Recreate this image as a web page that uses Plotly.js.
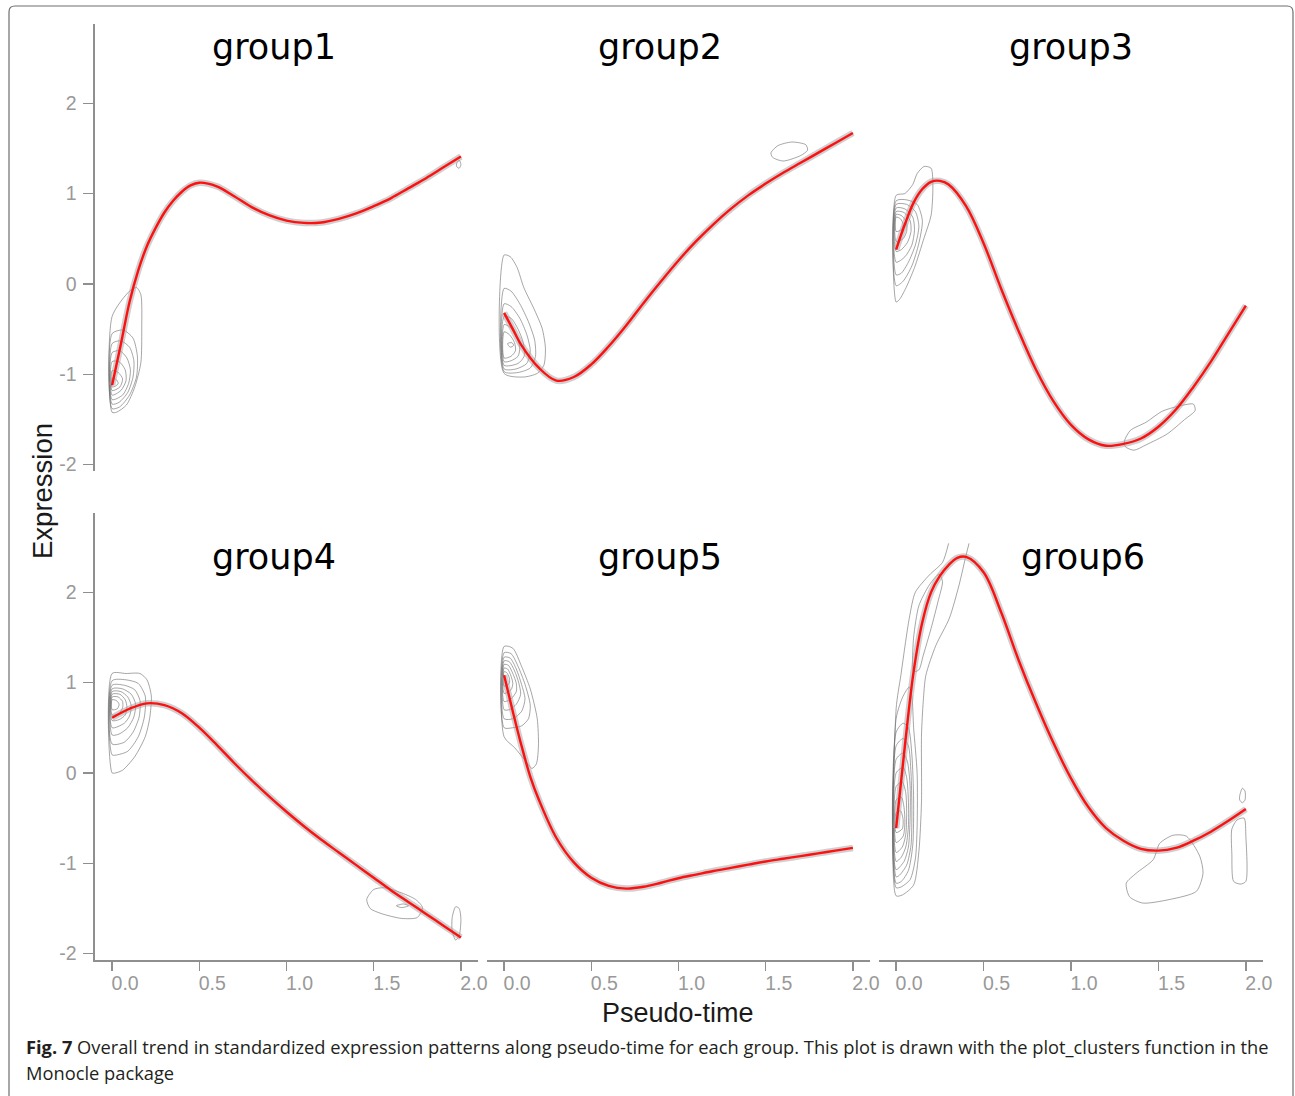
<!DOCTYPE html>
<html>
<head>
<meta charset="utf-8">
<script src="https://cdn.plot.ly/plotly-3.0.1.min.js"></script>
<style>html,body{margin:0;padding:0;background:#fff;}#chart{width:1295px;height:1096px;}</style>
</head>
<body>
<div id="chart"></div>
<script>
// ---------------- DATA ----------------
const groupNames = ["group1", "group2", "group3", "group4", "group5", "group6"];
const xTickVals = [0, 0.5, 1, 1.5, 2];
const xTickText = ["0.0", "0.5", "1.0", "1.5", "2.0"];
const yTickVals = [-2, -1, 0, 1, 2];
const yTickText = ["-2", "-1", "0", "1", "2"];

// fitted trend curves (pseudo-time, expression)
const group1T = [0,0.05,0.1,0.15,0.2,0.25,0.3,0.35,0.4,0.45,0.5,0.6,0.7,0.8,0.9,1.0,1.1,1.2,1.3,1.4,1.5,1.6,1.7,1.8,1.9,2.0];
const group1Y = [-1.12,-0.67,-0.20,0.15,0.42,0.62,0.79,0.92,1.02,1.09,1.12,1.08,0.97,0.85,0.76,0.70,0.675,0.68,0.72,0.78,0.86,0.95,1.06,1.17,1.29,1.41];
const group2T = [0,0.05,0.1,0.2,0.3,0.4,0.5,0.6,0.7,0.8,0.9,1.0,1.1,1.2,1.3,1.4,1.5,1.6,1.7,1.8,1.9,2.0];
const group2Y = [-0.32,-0.50,-0.68,-0.93,-1.07,-1.03,-0.89,-0.69,-0.46,-0.21,0.03,0.26,0.47,0.66,0.83,0.98,1.11,1.23,1.34,1.45,1.56,1.67];
const group3T = [0,0.05,0.1,0.15,0.2,0.25,0.3,0.4,0.5,0.6,0.7,0.8,0.9,1.0,1.1,1.2,1.3,1.4,1.5,1.6,1.7,1.8,1.9,2.0];
const group3Y = [0.38,0.66,0.90,1.05,1.13,1.14,1.10,0.86,0.45,-0.05,-0.52,-0.95,-1.30,-1.56,-1.72,-1.79,-1.77,-1.71,-1.58,-1.39,-1.14,-0.86,-0.55,-0.24];
const group4T = [0,0.1,0.2,0.3,0.4,0.5,0.6,0.7,0.8,0.9,1.0,1.1,1.2,1.3,1.4,1.5,1.6,1.7,1.8,1.9,2.0];
const group4Y = [0.61,0.71,0.77,0.75,0.66,0.50,0.31,0.11,-0.08,-0.26,-0.43,-0.59,-0.74,-0.88,-1.02,-1.16,-1.30,-1.43,-1.56,-1.69,-1.82];
const group5T = [0,0.05,0.1,0.15,0.2,0.3,0.4,0.5,0.6,0.7,0.8,0.9,1.0,1.1,1.2,1.3,1.4,1.5,1.6,1.7,1.8,1.9,2.0];
const group5Y = [1.08,0.68,0.30,-0.04,-0.30,-0.72,-0.99,-1.16,-1.25,-1.28,-1.26,-1.215,-1.165,-1.125,-1.085,-1.05,-1.015,-0.98,-0.95,-0.92,-0.89,-0.86,-0.83];
const group6T = [0,0.05,0.1,0.15,0.2,0.25,0.3,0.35,0.4,0.5,0.6,0.7,0.8,0.9,1.0,1.1,1.2,1.3,1.4,1.5,1.6,1.7,1.8,1.9,2.0];
const group6Y = [-0.61,0.30,1.12,1.67,2.00,2.18,2.30,2.38,2.39,2.22,1.78,1.25,0.77,0.33,-0.06,-0.38,-0.61,-0.75,-0.84,-0.86,-0.83,-0.75,-0.65,-0.53,-0.40];

// density contour rings (null separates rings)
const contour1X = [0,0.10,0.14,0.165,0.17,0.165,0.13,0.082,0.025,0,0,null,
  0,0.063,0.12,0.145,0.14,0.10,0.044,0,0,null,
  0,0.05,0.10,0.125,0.12,0.09,0.04,0,0,null,
  0,0.045,0.085,0.105,0.095,0.06,0,0,null,
  0,0.04,0.075,0.08,0.05,0,0,null,
  0,0.035,0.06,0.045,0,0,null,
  0,0.025,0.035,0.02,0,0,null,
  1.975,1.99,2.0,1.99,1.975,1.975];
const contour1Y = [-0.36,-0.08,-0.04,-0.12,-0.5,-0.87,-1.14,-1.34,-1.42,-1.42,-0.36,null,
  -0.55,-0.51,-0.6,-0.8,-1.03,-1.23,-1.36,-1.38,-0.55,null,
  -0.66,-0.63,-0.70,-0.85,-1.03,-1.2,-1.31,-1.33,-0.66,null,
  -0.76,-0.74,-0.82,-0.95,-1.1,-1.23,-1.28,-0.76,null,
  -0.86,-0.86,-0.95,-1.07,-1.18,-1.23,-0.86,null,
  -0.96,-0.98,-1.05,-1.14,-1.18,-0.96,null,
  -1.04,-1.06,-1.1,-1.13,-1.14,-1.04,null,
  1.33,1.37,1.32,1.28,1.30,1.33];

const contour2X = [0,0.036,0.075,0.113,0.17,0.218,0.237,0.228,0.19,0.113,0,0,null,
  0,0.04,0.09,0.14,0.175,0.18,0.15,0.08,0,0,null,
  0,0.04,0.09,0.13,0.15,0.13,0.07,0,0,null,
  0,0.04,0.08,0.11,0.115,0.08,0,0,null,
  0,0.035,0.07,0.09,0.08,0.04,0,0,null,
  0,0.03,0.06,0.065,0.04,0,0,null,
  0.02,0.045,0.055,0.035,0.02,null,
  1.53,1.57,1.65,1.73,1.74,1.70,1.60,1.54,1.53];
const contour2Y = [0.32,0.30,0.18,-0.04,-0.27,-0.49,-0.71,-0.90,-0.99,-1.03,-0.99,0.32,null,
  -0.05,-0.08,-0.22,-0.42,-0.62,-0.8,-0.93,-0.98,-0.97,-0.05,null,
  -0.22,-0.25,-0.38,-0.56,-0.74,-0.88,-0.94,-0.94,-0.22,null,
  -0.36,-0.38,-0.5,-0.65,-0.8,-0.88,-0.9,-0.36,null,
  -0.45,-0.48,-0.58,-0.7,-0.8,-0.85,-0.86,-0.45,null,
  -0.53,-0.56,-0.65,-0.74,-0.8,-0.82,-0.53,null,
  -0.66,-0.65,-0.68,-0.7,-0.66,null,
  1.45,1.53,1.57,1.54,1.48,1.42,1.36,1.40,1.45];

const contour3X = [0,0.05,0.095,0.12,0.16,0.2,0.21,0.2,0.16,0.105,0.057,0.02,0,0,null,
  0,0.06,0.12,0.15,0.13,0.09,0.04,0,0,null,
  0,0.06,0.11,0.13,0.11,0.07,0.03,0,0,null,
  0,0.05,0.095,0.105,0.09,0.05,0,0,null,
  0,0.045,0.08,0.085,0.065,0.03,0,0,null,
  0,0.035,0.06,0.06,0.04,0,0,null,
  0,0.025,0.04,0.03,0,0,null,
  1.307,1.34,1.43,1.52,1.62,1.70,1.71,1.65,1.55,1.43,1.36,1.31,1.307];
const contour3Y = [0.98,1.0,1.10,1.22,1.30,1.28,1.06,0.76,0.51,0.18,-0.04,-0.17,-0.2,0.98,null,
  0.92,0.93,0.88,0.7,0.45,0.2,0.03,-0.02,0.92,null,
  0.88,0.88,0.8,0.64,0.43,0.24,0.12,0.1,0.88,null,
  0.84,0.83,0.74,0.6,0.43,0.3,0.24,0.84,null,
  0.8,0.79,0.7,0.58,0.46,0.38,0.36,0.8,null,
  0.77,0.75,0.67,0.58,0.5,0.47,0.77,null,
  0.74,0.72,0.66,0.6,0.58,0.74,null,
  -1.73,-1.62,-1.53,-1.41,-1.35,-1.33,-1.40,-1.50,-1.66,-1.78,-1.84,-1.80,-1.73];

const contour4X = [0,0.08,0.16,0.2,0.225,0.215,0.19,0.13,0.06,0.02,0,0,null,
  0,0.08,0.15,0.19,0.185,0.15,0.09,0.03,0,0,null,
  0,0.07,0.13,0.16,0.155,0.12,0.07,0,0,null,
  0,0.06,0.11,0.135,0.125,0.09,0.04,0,0,null,
  0,0.05,0.09,0.11,0.1,0.07,0,0,null,
  0,0.045,0.075,0.085,0.075,0.04,0,0,null,
  0,0.035,0.06,0.06,0.04,0,0,null,
  0,0.025,0.04,0.03,0,0,null,
  1.46,1.50,1.56,1.65,1.74,1.78,1.75,1.66,1.55,1.48,1.46,null,
  1.63,1.67,1.70,1.66,1.63,null,
  1.95,1.97,1.99,2.0,1.99,1.97,1.95,1.95];
const contour4Y = [1.10,1.10,1.10,1.03,0.85,0.6,0.4,0.18,0.03,0.0,0.0,1.10,null,
  1.02,1.03,0.99,0.85,0.62,0.4,0.24,0.2,0.2,1.02,null,
  0.97,0.97,0.92,0.8,0.62,0.45,0.34,0.32,0.97,null,
  0.93,0.93,0.87,0.76,0.62,0.5,0.43,0.42,0.93,null,
  0.9,0.9,0.84,0.74,0.63,0.55,0.5,0.9,null,
  0.87,0.87,0.81,0.73,0.64,0.59,0.58,0.87,null,
  0.84,0.84,0.79,0.72,0.66,0.64,0.84,null,
  0.81,0.8,0.76,0.71,0.7,0.81,null,
  -1.40,-1.29,-1.27,-1.32,-1.40,-1.49,-1.60,-1.61,-1.56,-1.50,-1.40,null,
  -1.47,-1.45,-1.47,-1.49,-1.47,null,
  -1.6,-1.48,-1.5,-1.62,-1.8,-1.85,-1.75,-1.6];

const contour5X = [0,0.05,0.1,0.15,0.19,0.197,0.185,0.16,0.12,0.06,0,0,null,
  0,0.04,0.08,0.12,0.15,0.14,0.1,0.05,0,0,null,
  0,0.035,0.07,0.1,0.12,0.1,0.05,0,0,null,
  0,0.03,0.06,0.085,0.095,0.07,0.03,0,0,null,
  0,0.025,0.05,0.07,0.07,0.04,0,0,null,
  0,0.02,0.04,0.05,0.04,0,0,null,
  0,0.015,0.03,0.03,0,0];
const contour5Y = [1.40,1.38,1.18,0.93,0.6,0.3,0.1,0.05,0.14,0.28,0.4,1.40,null,
  1.33,1.32,1.18,0.98,0.75,0.6,0.52,0.5,0.5,1.33,null,
  1.28,1.27,1.15,0.98,0.82,0.68,0.6,0.6,1.28,null,
  1.24,1.23,1.13,0.99,0.87,0.76,0.7,0.7,1.24,null,
  1.2,1.19,1.1,0.99,0.9,0.82,0.79,1.2,null,
  1.16,1.15,1.07,0.99,0.92,0.88,1.16,null,
  1.12,1.11,1.05,0.99,0.96,1.12];

const contour6X = [0.30,0.265,0.19,0.11,0.075,0.027,0,0,0.036,0.10,0.13,0.145,0.145,0.155,0.17,0.227,0.304,0.36,0.40,0.417,null,
  0.094,0.10,0.13,0.19,0.245,0.265,0.24,0.2,0.155,0.13,0.10,0.094,null,
  0,0.04,0.075,0.09,0.1,0.12,0.12,0.11,0.08,0.03,0,0,null,
  0,0.04,0.07,0.09,0.1,0.095,0.07,0.03,0,0,null,
  0,0.04,0.07,0.085,0.09,0.085,0.06,0.02,0,0,null,
  0,0.04,0.065,0.08,0.08,0.07,0.045,0,0,null,
  0,0.04,0.06,0.07,0.07,0.055,0.03,0,0,null,
  0,0.035,0.055,0.06,0.055,0.035,0,0,null,
  0,0.03,0.045,0.05,0.04,0,0,null,
  0,0.025,0.04,0.035,0,0,null,
  1.316,1.373,1.47,1.507,1.583,1.66,1.736,1.755,1.717,1.565,1.41,1.335,1.316,null,
  1.92,1.95,1.99,2.0,2.0,1.97,1.93,1.92,1.92,null,
  1.965,1.98,1.995,1.995,1.98,1.965,1.965];
const contour6Y = [2.54,2.33,2.19,2.0,1.71,1.08,0.71,-1.36,-1.35,-1.24,-0.87,-0.32,0.42,0.79,1.08,1.41,1.71,2.08,2.41,2.54,null,
  1.2,1.5,1.85,2.08,2.2,2.12,1.9,1.6,1.30,1.14,1.12,1.2,null,
  0.6,0.85,0.95,0.85,0.5,0,-0.6,-0.95,-1.18,-1.26,-1.27,0.6,null,
  0.45,0.55,0.5,0.2,-0.3,-0.8,-1.08,-1.2,-1.22,0.45,null,
  0.3,0.38,0.3,0,-0.4,-0.8,-1.02,-1.13,-1.15,0.3,null,
  0.15,0.22,0.12,-0.15,-0.5,-0.82,-0.98,-1.07,0.15,null,
  0,0.06,-0.05,-0.3,-0.6,-0.82,-0.93,-0.98,0,null,
  -0.15,-0.1,-0.22,-0.45,-0.68,-0.82,-0.88,-0.15,null,
  -0.3,-0.27,-0.38,-0.55,-0.7,-0.77,-0.3,null,
  -0.44,-0.42,-0.52,-0.62,-0.66,-0.44,null,
  -1.22,-1.11,-0.96,-0.78,-0.69,-0.70,-0.92,-1.11,-1.31,-1.40,-1.44,-1.37,-1.22,null,
  -0.62,-0.52,-0.5,-0.7,-1.2,-1.23,-1.2,-0.9,-0.62,null,
  -0.25,-0.17,-0.2,-0.3,-0.33,-0.3,-0.25];

const captionLine1 = "<b>Fig. 7</b> Overall trend in standardized expression patterns along pseudo-time for each group. This plot is drawn with the plot_clusters function in the";
const captionLine2 = "Monocle package";
const xTitle = "Pseudo-time";
const yTitle = "Expression";

// ---------------- BUILD ----------------
const W = 1295, H = 1096;
const px = v => v / W;
const py = v => 1 - v / H;

const curveT = [group1T, group2T, group3T, group4T, group5T, group6T];
const curveY = [group1Y, group2Y, group3Y, group4Y, group5Y, group6Y];
const contX = [contour1X, contour2X, contour3X, contour4X, contour5X, contour6X];
const contY = [contour1Y, contour2Y, contour3Y, contour4Y, contour5Y, contour6Y];

const traces = [];
for (let i = 0; i < 6; i++) {
  const xa = i === 0 ? 'x' : 'x' + (i + 1);
  const ya = i === 0 ? 'y' : 'y' + (i + 1);
  traces.push({
    type: 'scatter', mode: 'lines', x: contX[i], y: contY[i], xaxis: xa, yaxis: ya,
    line: {color: 'rgba(105,105,105,0.7)', width: 0.85, shape: 'spline', smoothing: 0.7},
    connectgaps: false, hoverinfo: 'skip', showlegend: false
  });
  traces.push({
    type: 'scatter', mode: 'lines', x: curveT[i], y: curveY[i], xaxis: xa, yaxis: ya,
    line: {color: 'rgba(160,160,160,0.5)', width: 6.5, shape: 'spline', smoothing: 1},
    hoverinfo: 'skip', showlegend: false
  });
  traces.push({
    type: 'scatter', mode: 'lines', x: curveT[i], y: curveY[i], xaxis: xa, yaxis: ya,
    line: {color: '#ff1010', width: 2.4, shape: 'spline', smoothing: 1},
    hoverinfo: 'skip', showlegend: false
  });
}

const xDomains = [[px(95), px(478)], [px(487), px(870)], [px(879), px(1263)]];
const yDomains = [[py(471), py(24)], [py(960), py(513)]];
const xRange = [-0.098, 2.098];
const yRange = [-2.07, 2.876];
const axisGrey = '#8f8f8f';
const tickFont = {family: 'Liberation Sans, Arial, sans-serif', size: 19.5, color: '#999999'};

const layout = {
  width: W, height: H,
  margin: {l: 0, r: 0, t: 0, b: 0},
  paper_bgcolor: '#ffffff', plot_bgcolor: 'rgba(0,0,0,0)',
  showlegend: false,
  annotations: [], shapes: []
};

for (let i = 0; i < 6; i++) {
  const col = i % 3, row = Math.floor(i / 3);
  const xk = i === 0 ? 'xaxis' : 'xaxis' + (i + 1);
  const yk = i === 0 ? 'yaxis' : 'yaxis' + (i + 1);
  const xId = i === 0 ? 'x' : 'x' + (i + 1);
  const yId = i === 0 ? 'y' : 'y' + (i + 1);
  const bottom = row === 1, left = col === 0;
  layout[xk] = {
    domain: xDomains[col], anchor: yId, range: xRange,
    showgrid: false, zeroline: false,
    showline: bottom, linecolor: axisGrey, linewidth: 1.6,
    ticks: bottom ? 'outside' : '', ticklen: 9, tickwidth: 1.3, tickcolor: axisGrey,
    tickvals: xTickVals, ticktext: xTickText, showticklabels: bottom,
    tickfont: tickFont, ticklabelshift: 13, ticklabelstandoff: -4
  };
  layout[yk] = {
    domain: yDomains[row], anchor: xId, range: yRange,
    showgrid: false, zeroline: false,
    showline: left, linecolor: axisGrey, linewidth: 1.6,
    ticks: left ? 'outside' : '', ticklen: 10, tickwidth: 1.3, tickcolor: axisGrey,
    tickvals: yTickVals, ticktext: yTickText, showticklabels: left,
    tickfont: tickFont, ticklabelstandoff: 3
  };
}

// panel titles
const titlePos = [[274, 47], [660, 47], [1071, 47], [274, 557], [660, 557], [1083, 557]];
for (let i = 0; i < 6; i++) {
  layout.annotations.push({
    text: groupNames[i], xref: 'paper', yref: 'paper',
    x: px(titlePos[i][0]), y: py(titlePos[i][1]), xanchor: 'center', yanchor: 'middle',
    showarrow: false, font: {family: 'DejaVu Sans, sans-serif', size: 35, color: '#000000'}
  });
}
// axis titles
layout.annotations.push({
  text: yTitle, xref: 'paper', yref: 'paper', x: px(42), y: py(491),
  xanchor: 'center', yanchor: 'middle', textangle: -90, showarrow: false,
  font: {family: 'Liberation Sans, Arial, sans-serif', size: 27.5, color: '#1a1a1a'}
});
layout.annotations.push({
  text: xTitle, xref: 'paper', yref: 'paper', x: px(678), y: py(1013),
  xanchor: 'center', yanchor: 'middle', showarrow: false,
  font: {family: 'Liberation Sans, Arial, sans-serif', size: 27, color: '#1a1a1a'}
});
// caption
layout.annotations.push({
  text: captionLine1, xref: 'paper', yref: 'paper', x: px(24), y: py(1046),
  xanchor: 'left', yanchor: 'middle', showarrow: false, align: 'left',
  font: {family: 'Open Sans, Noto Sans, sans-serif', size: 18.3, color: '#231f20'}
});
layout.annotations.push({
  text: captionLine2, xref: 'paper', yref: 'paper', x: px(24), y: py(1072),
  xanchor: 'left', yanchor: 'middle', showarrow: false, align: 'left',
  font: {family: 'Open Sans, Noto Sans, sans-serif', size: 18.3, color: '#231f20'}
});

// rounded outer frame (bottom edge lies below the picture)
const L = 9, R = 1293, T = 6, B = 1120, r = 6;
const path = `M ${px(L)},${py(B)} L ${px(L)},${py(T + r)} Q ${px(L)},${py(T)} ${px(L + r)},${py(T)} ` +
  `L ${px(R - r)},${py(T)} Q ${px(R)},${py(T)} ${px(R)},${py(T + r)} L ${px(R)},${py(B)}`;
layout.shapes.push({type: 'path', xref: 'paper', yref: 'paper', path: path,
  line: {color: '#6e6e6e', width: 1.2}, layer: 'above'});

Plotly.newPlot('chart', traces, layout, {staticPlot: true, displayModeBar: false});
</script>
</body>
</html>
